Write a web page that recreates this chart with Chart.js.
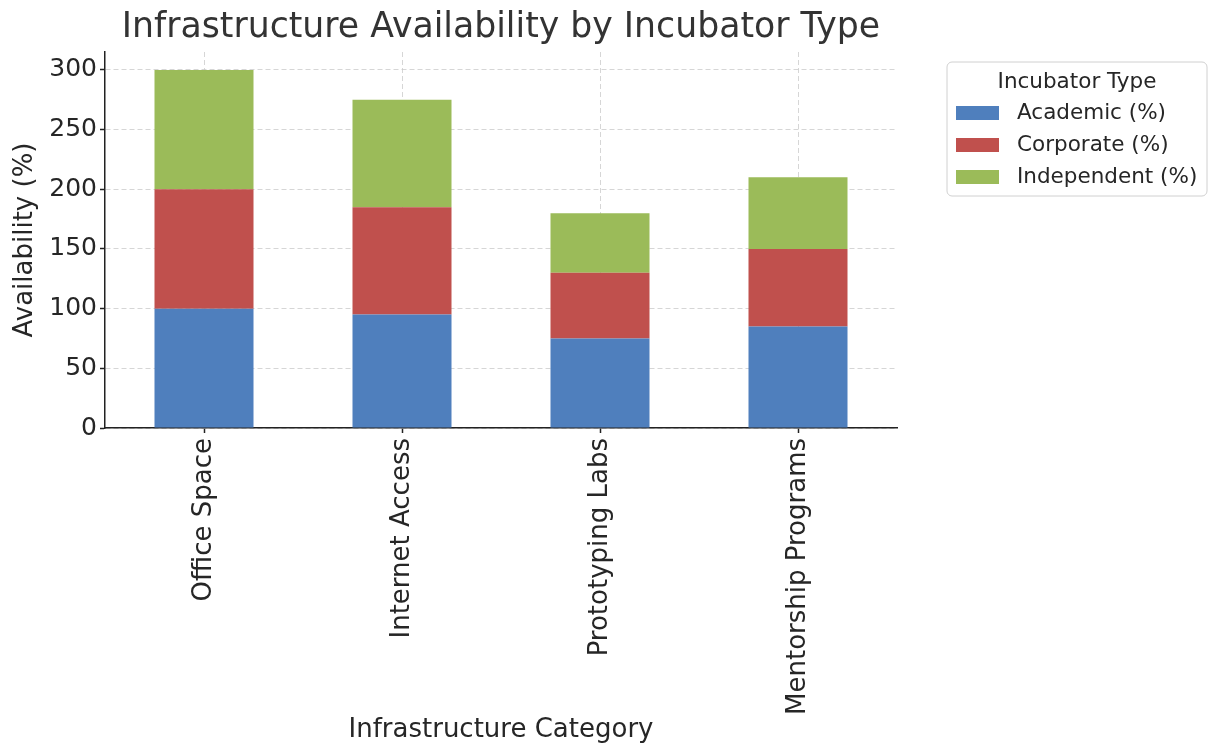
<!DOCTYPE html>
<html>
<head>
<meta charset="utf-8">
<script src="https://cdn.jsdelivr.net/npm/chart.js@4/dist/chart.umd.min.js"></script>
<style>
  html, body { margin: 0; padding: 0; background: #ffffff; }
  #wrap { width: 1208px; height: 747px; position: relative; }
</style>
</head>
<body>
<div id="wrap"><canvas id="chart" width="1208" height="747"></canvas></div>
<script>
// Infrastructure categories and availability by incubator type
const categories = ['Office Space', 'Internet Access', 'Prototyping Labs', 'Mentorship Programs'];
const academic = [100, 95, 75, 85];
const corporate = [100, 90, 55, 65];
const independent = [100, 90, 50, 60];
const seriesNames = ['Academic (%)', 'Corporate (%)', 'Independent (%)'];
const yTicks = [0, 50, 100, 150, 200, 250, 300];

const FONT = "'DejaVu Sans', sans-serif";
const TEXT = '#262626';
const colors = ['#4F7FBD', '#C0504D', '#9BBB59'];

// Plot-area geometry
const PLOT = { left: 105, top: 52, right: 897, bottom: 428 };

// Chart title drawn above the plot area
const titlePlugin = {
  id: 'topTitle',
  afterDraw(chart) {
    const ctx = chart.ctx;
    ctx.save();
    ctx.font = '34.7px ' + FONT;
    ctx.fillStyle = '#333333';
    ctx.textAlign = 'center';
    ctx.textBaseline = 'middle';
    ctx.fillText('Infrastructure Availability by Incubator Type', (PLOT.left + PLOT.right) / 2, 28);
    ctx.restore();
  }
};

// Legend box with title, placed to the right of the plot
const legendPlugin = {
  id: 'sideLegend',
  afterDraw(chart) {
    const ctx = chart.ctx;
    const x = 947, y = 62, w = 260, h = 134, r = 5;
    ctx.save();
    ctx.beginPath();
    ctx.moveTo(x + r, y);
    ctx.arcTo(x + w, y, x + w, y + h, r);
    ctx.arcTo(x + w, y + h, x, y + h, r);
    ctx.arcTo(x, y + h, x, y, r);
    ctx.arcTo(x, y, x + w, y, r);
    ctx.closePath();
    ctx.fillStyle = 'rgba(255,255,255,0.85)';
    ctx.fill();
    ctx.strokeStyle = '#d0d0d0';
    ctx.lineWidth = 1;
    ctx.stroke();

    ctx.fillStyle = TEXT;
    ctx.font = '21.5px ' + FONT;
    ctx.textAlign = 'center';
    ctx.textBaseline = 'middle';
    ctx.fillText('Incubator Type', x + w / 2, y + 20);

    ctx.textAlign = 'left';
    chart.data.datasets.forEach((ds, i) => {
      const cy = y + 51 + i * 32;
      ctx.fillStyle = ds.backgroundColor;
      ctx.fillRect(x + 9, cy - 7, 43, 14);
      ctx.fillStyle = TEXT;
      ctx.fillText(ds.label, x + 70, cy);
    });
    ctx.restore();
  }
};

new Chart(document.getElementById('chart'), {
  type: 'bar',
  data: {
    labels: categories,
    datasets: [
      { label: seriesNames[0], data: academic, backgroundColor: colors[0] },
      { label: seriesNames[1], data: corporate, backgroundColor: colors[1] },
      { label: seriesNames[2], data: independent, backgroundColor: colors[2] }
    ]
  },
  options: {
    responsive: false,
    animation: false,
    devicePixelRatio: 1,
    layout: { padding: { left: 0, top: PLOT.top, right: 1208 - PLOT.right, bottom: 0 } },
    datasets: { bar: { categoryPercentage: 1.0, barPercentage: 0.5, borderWidth: 0 } },
    plugins: {
      legend: { display: false },
      title: { display: false },
      tooltip: { enabled: false }
    },
    scales: {
      x: {
        stacked: true,
        offset: true,
        z: 1,
        afterFit(scale) { scale.height = 747 - PLOT.bottom; },
        grid: {
          offset: false,
          color: 'rgba(200,200,200,0.75)',
          lineWidth: 1,
          drawTicks: true,
          tickLength: 5,
          tickColor: '#222222',
          tickWidth: 1.5,
          tickBorderDash: []
        },
        border: { display: true, color: '#222222', width: 1.5, dash: [5, 3] },
        ticks: {
          autoSkip: false,
          maxRotation: 90,
          minRotation: 90,
          padding: 5,
          color: TEXT,
          font: { family: FONT, size: 26 }
        },
        title: {
          display: true,
          text: 'Infrastructure Category',
          color: TEXT,
          font: { family: FONT, size: 26 },
          padding: { top: 0, bottom: 1 }
        }
      },
      y: {
        stacked: true,
        min: 0,
        max: 315,
        z: 1,
        afterFit(scale) { scale.width = PLOT.left; },
        afterBuildTicks(scale) { scale.ticks = yTicks.map(v => ({ value: v })); },
        grid: {
          color: 'rgba(200,200,200,0.75)',
          lineWidth: 1,
          drawTicks: true,
          tickLength: 5,
          tickColor: '#222222',
          tickWidth: 1.5,
          tickBorderDash: []
        },
        border: { display: true, color: '#222222', width: 1.5, dash: [5, 3] },
        ticks: {
          padding: 3,
          color: TEXT,
          font: { family: FONT, size: 25 }
        },
        title: {
          display: true,
          text: 'Availability (%)',
          color: TEXT,
          font: { family: FONT, size: 26 },
          padding: { top: 10, bottom: 6 }
        }
      }
    }
  },
  plugins: [titlePlugin, legendPlugin]
});
</script>
</body>
</html>
